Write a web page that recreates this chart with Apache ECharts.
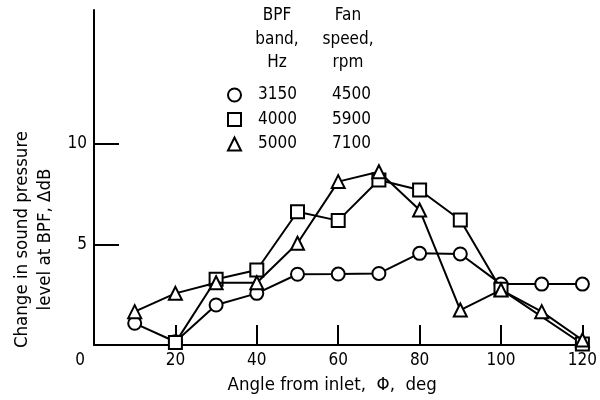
<!DOCTYPE html>
<html>
<head>
<meta charset="utf-8">
<script src="https://cdn.jsdelivr.net/npm/echarts@6/dist/echarts.min.js"></script>
<style>html,body{margin:0;padding:0;background:#fff;}#c{width:600px;height:400px;}</style>
</head>
<body>
<div id="c"></div>
<script>
// Data
const angles = [10, 20, 30, 40, 50, 60, 70, 80, 90, 100, 110, 120];
const band3150 = [1.08, 0.16, 1.99, 2.57, 3.52, 3.53, 3.56, 4.56, 4.53, 3.03, 3.03, 3.03];
const anglesSquare = [20, 30, 40, 50, 60, 70, 80, 90, 100, 120];
const band4000 = [0.12, 3.27, 3.73, 6.63, 6.19, 8.21, 7.71, 6.22, 2.77, 0.05];
const band5000 = [1.66, 2.57, 3.10, 3.10, 5.06, 8.13, 8.62, 6.72, 1.74, 2.74, 1.66, 0.25];
const bpfBands = ['3150', '4000', '5000'];
const fanSpeeds = ['4500', '5900', '7100'];
const symbols = ['circle', 'rect', 'triangle'];
const xTicks = [20, 40, 60, 80, 100, 120];
const xLabels = [0, 20, 40, 60, 80, 100, 120];
const yTicks = [5, 10];

const FONT = '"DejaVu Sans Condensed", "DejaVu Sans", sans-serif';
const FS = 17;
const NFS = 18.5;

function pairs(xs, ys) { return xs.map((x, i) => [x, ys[i]]); }
const seriesData = [pairs(angles, band3150), pairs(anglesSquare, band4000), pairs(angles, band5000)];

const chart = echarts.init(document.getElementById('c'), null, { renderer: 'canvas' });
chart.setOption({
  animation: false,
  backgroundColor: '#fff',
  textStyle: { fontFamily: FONT, color: '#000' },
  title: [
    { text: 'BPF\nband,\nHz', left: 277, top: 4, textAlign: 'center', padding: 0,
      textStyle: { fontFamily: FONT, fontSize: FS, fontWeight: 'normal', color: '#000', lineHeight: 23.5 } },
    { text: 'Fan\nspeed,\nrpm', left: 348, top: 4, textAlign: 'center', padding: 0,
      textStyle: { fontFamily: FONT, fontSize: FS, fontWeight: 'normal', color: '#000', lineHeight: 23.5 } }
  ],
  legend: {
    orient: 'vertical', left: 227, top: 86, padding: 0,
    itemWidth: 13, itemHeight: 13, itemGap: 6.5,
    data: bpfBands.map((b, i) => ({
      name: b, icon: symbols[i],
      itemStyle: { color: '#fff', borderColor: '#000', borderWidth: 2 }
    })),
    formatter: function (name) {
      const i = bpfBands.indexOf(name);
      return '{s| }{a|' + name + '}{b|' + fanSpeeds[i] + '}';
    },
    textStyle: {
      fontFamily: FONT, fontSize: FS, color: '#000', lineHeight: 18,
      rich: { s: { width: 12, lineHeight: 18 }, a: { width: 74, fontFamily: FONT, fontSize: FS, lineHeight: 18 }, b: { fontFamily: FONT, fontSize: FS, lineHeight: 18 } }
    }
  },
  grid: { left: 94, right: 13, top: 10, bottom: 55, containLabel: false },
  xAxis: {
    type: 'value', min: 0, max: 120,
    name: 'Angle from inlet,  Φ,  deg', nameLocation: 'middle', nameGap: 31,
    nameTextStyle: { fontFamily: FONT, fontSize: NFS, color: '#000', padding: [0, 12, 0, 0] },
    axisLine: { show: true, lineStyle: { color: '#000', width: 2 } },
    axisTick: { show: true, inside: true, length: 20, customValues: xTicks, lineStyle: { color: '#000', width: 2 } },
    axisLabel: {
      customValues: xLabels, margin: 7, fontFamily: FONT, fontSize: FS, color: '#000',
      formatter: function (v) { return v === 0 ? '{o|0}' : String(v); },
      rich: { o: { padding: [0, 28, 0, 0], fontFamily: FONT, fontSize: FS, color: '#000' } }
    },
    splitLine: { show: false }
  },
  yAxis: {
    type: 'value', min: 0, max: 16.67,
    name: 'Change in sound pressure\nlevel at BPF, ΔdB', nameLocation: 'middle', nameGap: 36, nameRotate: 90,
    nameTextStyle: { fontFamily: FONT, fontSize: NFS, color: '#000', lineHeight: 23, padding: [0, 124, 0, 0] },
    axisLine: { show: true, lineStyle: { color: '#000', width: 2 } },
    axisTick: { show: true, inside: true, length: 25, customValues: yTicks, lineStyle: { color: '#000', width: 2 } },
    axisLabel: {
      customValues: yTicks, margin: 7, fontFamily: FONT, fontSize: FS, color: '#000',
      padding: [6, 0, 0, 0]
    },
    splitLine: { show: false }
  },
  series: bpfBands.map((b, i) => ({
    name: b, type: 'line', data: seriesData[i],
    symbol: symbols[i], symbolSize: 13, showAllSymbol: true,
    lineStyle: { color: '#000', width: 2 },
    itemStyle: { color: '#fff', borderColor: '#000', borderWidth: 2 },
    z: 2 + i
  }))
});
</script>
</body>
</html>
